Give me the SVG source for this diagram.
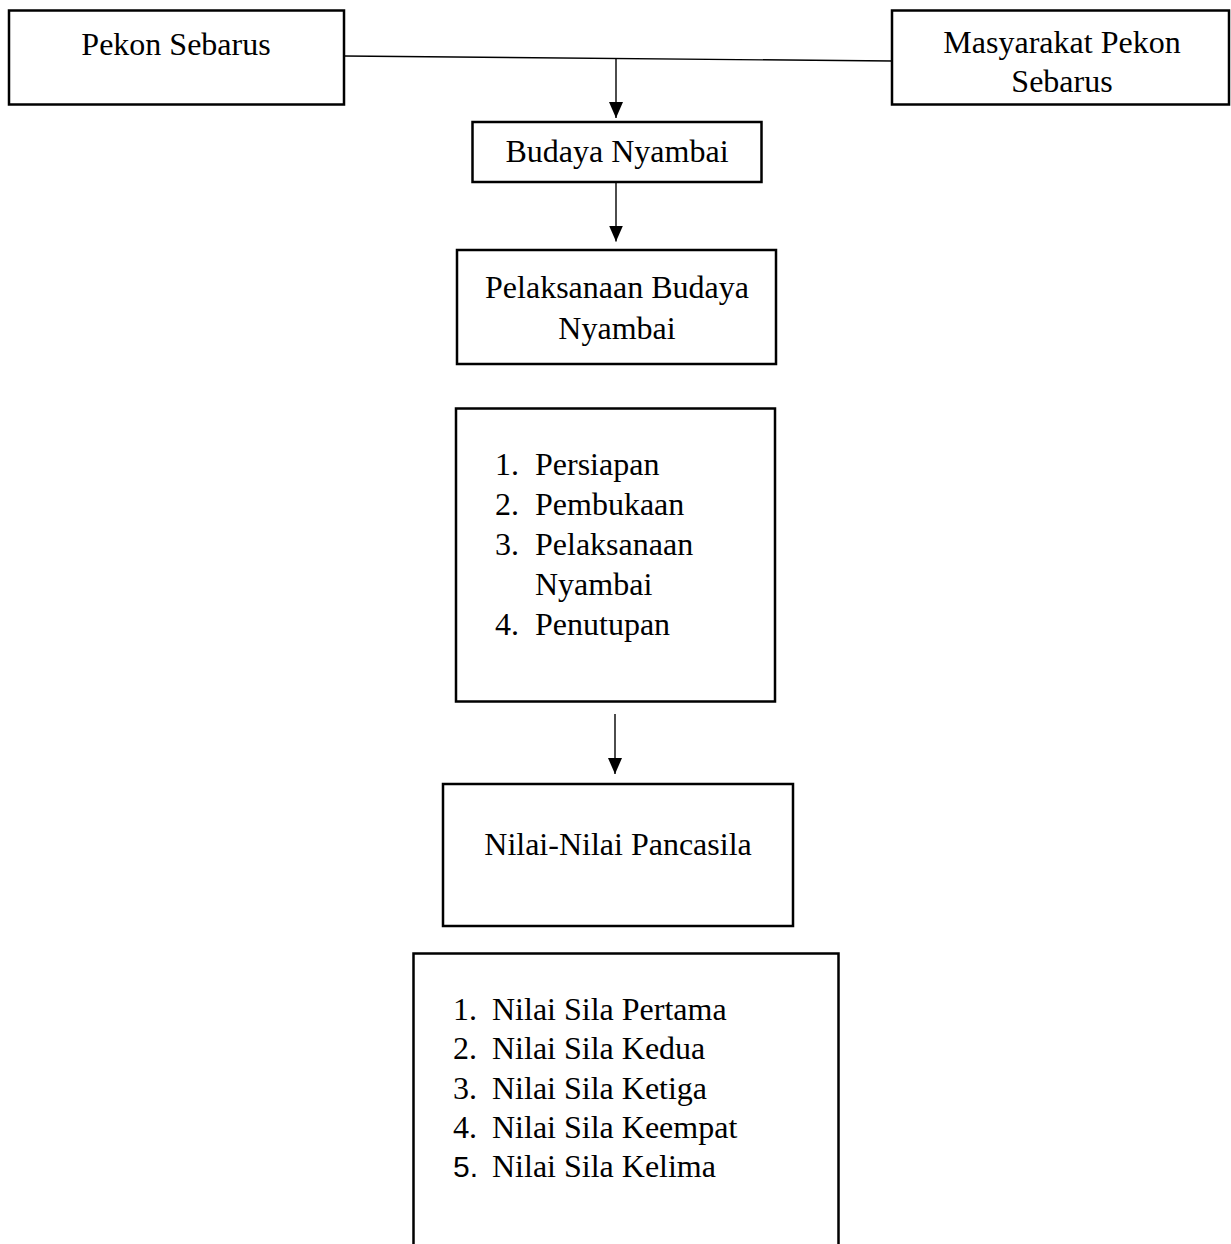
<svg xmlns="http://www.w3.org/2000/svg" width="1231" height="1244" viewBox="0 0 1231 1244">
<style>
.box{fill:#fff;stroke:#000;stroke-width:2.5}
.t{font-family:"Liberation Serif","Times New Roman",serif;font-size:32px;fill:#000}
.c{text-anchor:middle}
.sans{font-family:"Liberation Sans",Arial,sans-serif;font-size:30px}
.conn{stroke:#000;stroke-width:1.4;fill:none}
</style>
<defs>
<marker id="ah" viewBox="0 0 16 14" refX="16" refY="7" markerWidth="16" markerHeight="14" markerUnits="userSpaceOnUse" orient="auto">
<path d="M0,0 L16,7 L0,14 z" fill="#000"/>
</marker>
</defs>
<rect width="1231" height="1244" fill="#fff"/>
<g id="connectors">
<line class="conn" x1="344" y1="56" x2="892" y2="61"/>
<line class="conn" x1="616" y1="58.5" x2="616" y2="118" marker-end="url(#ah)"/>
<line class="conn" x1="616" y1="182" x2="616" y2="241.5" marker-end="url(#ah)"/>
<line class="conn" x1="615" y1="714" x2="615" y2="774" marker-end="url(#ah)"/>
</g>
<g id="pekon">
<rect class="box" x="9" y="10.5" width="335" height="94"/>
<text class="t c" x="176" y="55">Pekon Sebarus</text>
</g>
<g id="masyarakat">
<rect class="box" x="892" y="10.5" width="337" height="94"/>
<text class="t c" x="1062" y="53">Masyarakat Pekon</text>
<text class="t c" x="1062" y="92">Sebarus</text>
</g>
<g id="budaya">
<rect class="box" x="472.5" y="122" width="289" height="60"/>
<text class="t c" x="617" y="162">Budaya Nyambai</text>
</g>
<g id="pelaksanaan">
<rect class="box" x="457" y="250" width="319" height="114"/>
<text class="t c" x="617" y="298">Pelaksanaan Budaya</text>
<text class="t c" x="617" y="339">Nyambai</text>
</g>
<g id="tahapan">
<rect class="box" x="456" y="408.5" width="319" height="293"/>
<text class="t" x="495" y="475">1.</text><text class="t" x="535" y="475">Persiapan</text>
<text class="t" x="495" y="515">2.</text><text class="t" x="535" y="515">Pembukaan</text>
<text class="t" x="495" y="555">3.</text><text class="t" x="535" y="555">Pelaksanaan</text>
<text class="t" x="535" y="595">Nyambai</text>
<text class="t" x="495" y="635">4.</text><text class="t" x="535" y="635">Penutupan</text>
</g>
<g id="nilai">
<rect class="box" x="443" y="784" width="350" height="142"/>
<text class="t c" x="618" y="855">Nilai-Nilai Pancasila</text>
</g>
<g id="sila">
<rect class="box" x="413.5" y="953.5" width="425" height="320"/>
<text class="t" x="453" y="1020">1.</text><text class="t" x="492" y="1020">Nilai Sila Pertama</text>
<text class="t" x="453" y="1059">2.</text><text class="t" x="492" y="1059">Nilai Sila Kedua</text>
<text class="t" x="453" y="1099">3.</text><text class="t" x="492" y="1099">Nilai Sila Ketiga</text>
<text class="t" x="453" y="1138">4.</text><text class="t" x="492" y="1138">Nilai Sila Keempat</text>
<text class="t sans" x="453" y="1177">5.</text><text class="t" x="492" y="1177">Nilai Sila Kelima</text>
</g>
</svg>
